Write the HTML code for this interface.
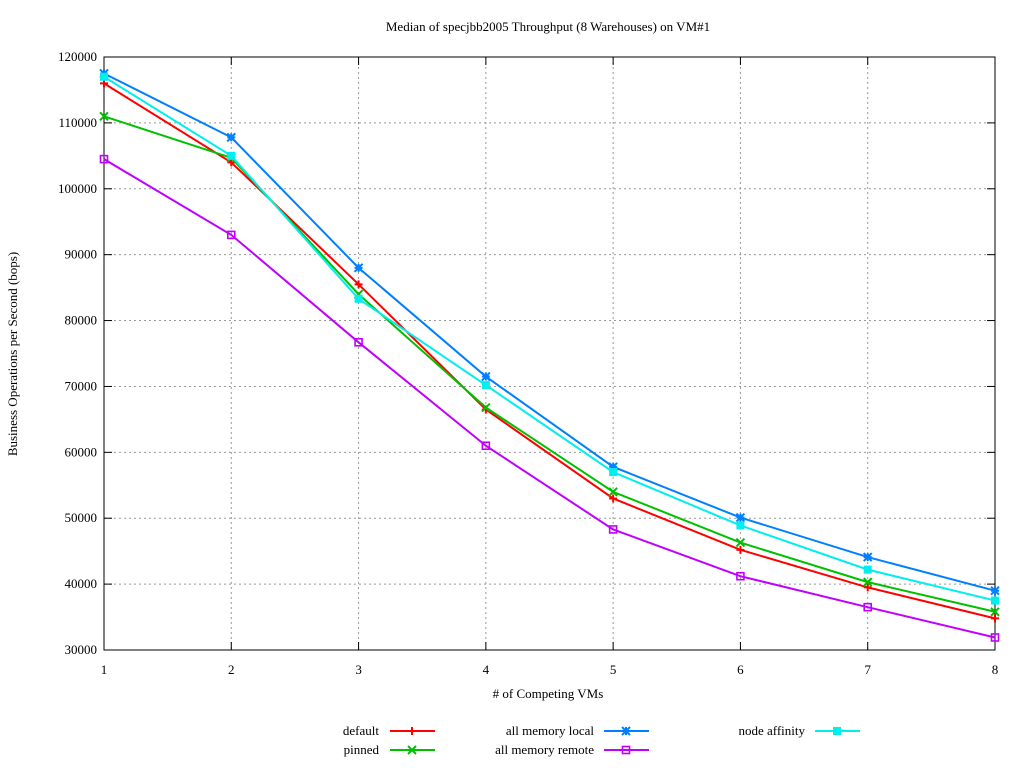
<!DOCTYPE html>
<html><head><meta charset="utf-8"><style>
body{margin:0;background:#fff}
svg{display:block;font-family:"Liberation Serif",serif;font-size:13px}
</style></head><body>
<svg id="s" width="1024" height="768" xmlns="http://www.w3.org/2000/svg">
<rect width="1024" height="768" fill="#fff"/>
<text x="548" y="31" text-anchor="middle">Median of specjbb2005 Throughput (8 Warehouses) on VM#1</text>
<text x="548" y="698" text-anchor="middle"># of Competing VMs</text>
<text transform="translate(17,354) rotate(-90)" text-anchor="middle">Business Operations per Second (bops)</text>
<g id="g"></g>
</svg>
<script>
var g=document.getElementById('g'),h='';
var L=104,R=995,T=57,B=650;
function X(i){return L+(i-1)*(R-L)/7}
function Y(v){return T+(120000-v)/90000*(B-T)}
for(var v=30000;v<=120000;v+=10000){var y=Y(v);
 if(v>30000&&v<120000)h+='<line x1="'+L+'" x2="'+R+'" y1="'+y+'" y2="'+y+'" stroke="#999" stroke-dasharray="2,3"/>';
 h+='<line x1="'+L+'" x2="'+(L+8)+'" y1="'+y+'" y2="'+y+'" stroke="#000"/><line x1="'+R+'" x2="'+(R-8)+'" y1="'+y+'" y2="'+y+'" stroke="#000"/>';
 h+='<text x="97" y="'+(y+4)+'" text-anchor="end">'+v+'</text>';}
for(var i=1;i<=8;i++){var x=X(i);
 if(i>1&&i<8)h+='<line x1="'+x+'" x2="'+x+'" y1="'+T+'" y2="'+B+'" stroke="#999" stroke-dasharray="2,3"/>';
 h+='<line x1="'+x+'" x2="'+x+'" y1="'+B+'" y2="'+(B-8)+'" stroke="#000"/><line x1="'+x+'" x2="'+x+'" y1="'+T+'" y2="'+(T+8)+'" stroke="#000"/>';
 h+='<text x="'+x+'" y="674" text-anchor="middle">'+i+'</text>';}
h+='<rect x="'+L+'" y="'+T+'" width="'+(R-L)+'" height="'+(B-T)+'" fill="none" stroke="#000"/>';
function mk(t,x,y,c){var s='';
 if(t=='+'||t=='*')s+='<path d="M'+(x-4)+' '+y+'h8M'+x+' '+(y-4)+'v8" stroke="'+c+'" stroke-width="2"/>';
 if(t=='x'||t=='*')s+='<path d="M'+(x-4)+' '+(y-4)+'l8 8M'+(x-4)+' '+(y+4)+'l8 -8" stroke="'+c+'" stroke-width="2"/>';
 if(t=='o')s+='<rect x="'+(x-3.5)+'" y="'+(y-3.5)+'" width="7" height="7" fill="none" stroke="'+c+'" stroke-width="1.6"/>';
 if(t=='f')s+='<rect x="'+(x-4)+'" y="'+(y-4)+'" width="8" height="8" fill="'+c+'"/>';
 return s;}
var S=[
['default','#ff0000','+',[116000,104000,85500,66500,53000,45200,39500,34800],379,390,731],
['pinned','#00c000','x',[111000,104700,84000,66800,54000,46300,40300,35800],379,390,750],
['all memory local','#0080ff','*',[117500,107800,88000,71500,57800,50100,44100,39000],594,604,731],
['all memory remote','#c000ff','o',[104500,93000,76700,61000,48300,41200,36500,31900],594,604,750],
['node affinity','#00eeee','f',[117000,105000,83300,70200,57000,48900,42200,37500],805,815,731]];
S.forEach(function(s){var p=s[3].map(function(v,i){return X(i+1)+','+Y(v)}).join(' ');
 h+='<polyline points="'+p+'" fill="none" stroke="'+s[1]+'" stroke-width="2"/>';
 s[3].forEach(function(v,i){h+=mk(s[2],X(i+1),Y(v),s[1])});
 h+='<text x="'+s[4]+'" y="'+(s[6]+4)+'" text-anchor="end">'+s[0]+'</text>';
 h+='<line x1="'+s[5]+'" x2="'+(s[5]+45)+'" y1="'+s[6]+'" y2="'+s[6]+'" stroke="'+s[1]+'" stroke-width="2"/>'+mk(s[2],s[5]+22,s[6],s[1]);
});
g.innerHTML=h;
</script>
</body></html>
